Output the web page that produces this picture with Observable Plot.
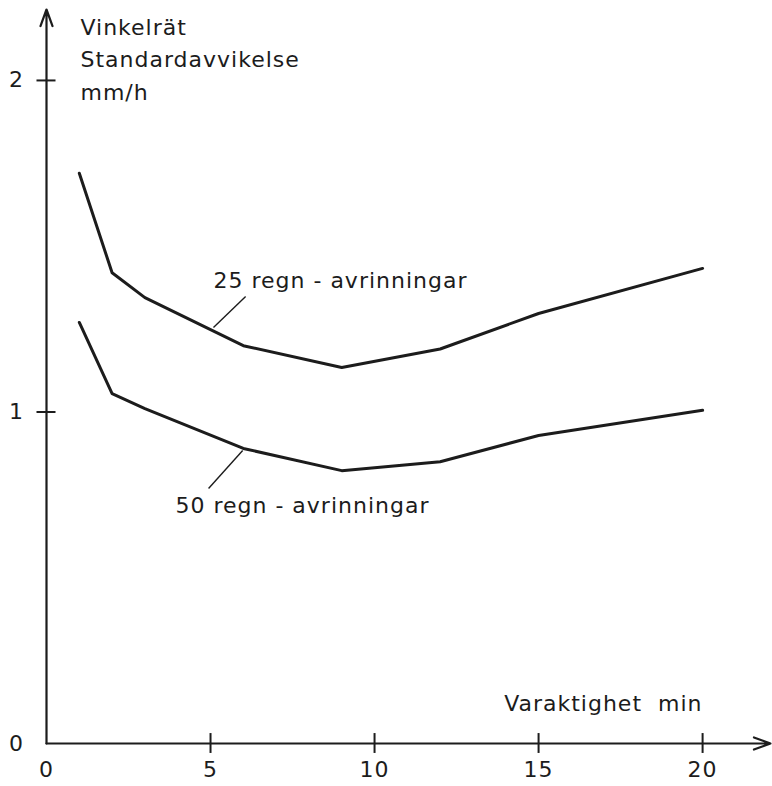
<!DOCTYPE html>
<html><head><meta charset="utf-8">
<script src="https://cdn.jsdelivr.net/npm/d3@7"></script>
<script src="https://cdn.jsdelivr.net/npm/@observablehq/plot@0.6"></script>
<style>body{margin:0;background:#fff} svg text{letter-spacing:1px}</style>
</head><body><div id="chart"></div>
<script>
// Data
const durations = [1, 2, 3, 6, 9, 12, 15, 20];          // Varaktighet, min
const sd25 = [1.72, 1.42, 1.345, 1.20, 1.134, 1.19, 1.297, 1.433]; // 25 regn - avrinningar
const sd50 = [1.27, 1.055, 1.01, 0.89, 0.823, 0.85, 0.929, 1.005]; // 50 regn - avrinningar
const seriesLabels = ["25 regn - avrinningar", "50 regn - avrinningar"];
const xTicks = [0, 5, 10, 15, 20];
const yTicks = [0, 1, 2];
const yTitle = "Vinkelrät\nStandardavvikelse\nmm/h";
const xTitle = "Varaktighet  min";
// Label anchor positions (data units) and leader lines
const labelX = [5.09, 3.93];
const labelY = [1.373, 0.694];
const leaderX1 = [5.09, 5.98], leaderY1 = [1.255, 0.884];
const leaderX2 = [6.07, 4.94], leaderY2 = [1.348, 0.769];

const xMax = 22.07, yMax = 2.214;
const ink = "#1c1c1c";

const rows = [];
durations.forEach((d, i) => {
  rows.push({series: seriesLabels[0], x: d, y: sd25[i]});
  rows.push({series: seriesLabels[1], x: d, y: sd50[i]});
});
const leaders = leaderX1.map((x, i) => ({x1: x, y1: leaderY1[i], x2: leaderX2[i], y2: leaderY2[i]}));

const plot = Plot.plot({
  width: 772, height: 786,
  marginLeft: 46, marginRight: 2, marginTop: 9, marginBottom: 43,
  x: {domain: [0, xMax], axis: null},
  y: {domain: [0, yMax], axis: null},
  style: {fontFamily: "DejaVu Sans", fontSize: "22px", color: ink, background: "#fff"},
  marks: [
    Plot.arrow([{x1: 0, y1: 0, x2: 0, y2: yMax}], {x1: "x1", y1: "y1", x2: "x2", y2: "y2", stroke: ink, strokeWidth: 2.2, headLength: 12, headAngle: 40}),
    Plot.arrow([{x1: 0, y1: 0, x2: xMax, y2: 0}], {x1: "x1", y1: "y1", x2: "x2", y2: "y2", stroke: ink, strokeWidth: 2.2, headLength: 12, headAngle: 40}),
    Plot.ruleX(xTicks.filter(d => d > 0), {x: d => d, y1: -0.03, y2: 0.03, stroke: ink, strokeWidth: 2}),
    Plot.ruleY(yTicks.filter(d => d > 0), {y: d => d, x1: -0.29, x2: 0.29, stroke: ink, strokeWidth: 2}),
    Plot.text(xTicks, {x: d => d, y: 0, dy: 26, text: d => String(d), fill: ink, fontSize: 22}),
    Plot.text(yTicks, {x: 0, y: d => d, dx: -30, text: d => String(d), fill: ink, fontSize: 22}),
    Plot.line(rows, {x: "x", y: "y", z: "series", stroke: ink, strokeWidth: 3, strokeLinejoin: "round", strokeLinecap: "round"}),
    Plot.link(leaders, {x1: "x1", y1: "y1", x2: "x2", y2: "y2", stroke: ink, strokeWidth: 1.4}),
    Plot.text(seriesLabels, {x: (d, i) => labelX[i], y: (d, i) => labelY[i], text: d => d, textAnchor: "start", lineAnchor: "bottom", fill: ink, fontSize: 22}),
    Plot.text([yTitle], {frameAnchor: "top-left", dx: 34, dy: 2, text: d => d, textAnchor: "start", lineAnchor: "top", lineHeight: 1.48, fill: ink, fontSize: 22}),
    Plot.text([xTitle], {frameAnchor: "bottom-right", dx: -68, dy: -33, text: d => d, textAnchor: "end", lineAnchor: "bottom", fill: ink, fontSize: 22})
  ]
});
document.getElementById("chart").appendChild(plot);
</script>
</body></html>
